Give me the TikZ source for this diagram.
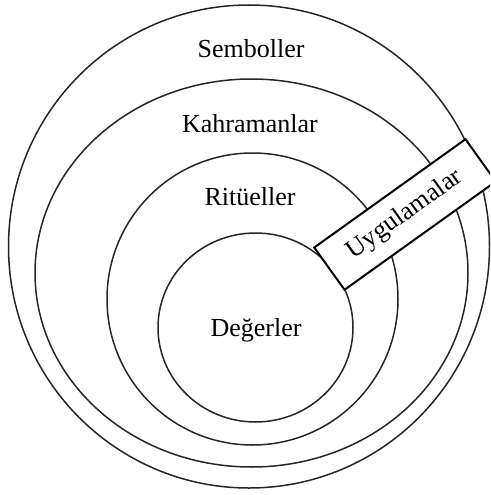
\documentclass[tikz,border=0pt]{standalone}
\usepackage{fontspec}
\setmainfont{Liberation Serif}
\begin{document}
\begin{tikzpicture}[x=1pt,y=-1pt,
  ring/.style={draw=black!85, line width=1.5pt},
  lab/.style={font=\fontsize{26}{30}\selectfont, inner sep=0pt, anchor=base},
  boxlab/.style={draw=black, fill=white, line width=2pt, rotate=35.6,
    minimum width=186pt, minimum height=52pt, inner sep=0pt,
    font=\fontsize{26}{30}\selectfont}]
\useasboundingbox (0,0) rectangle (490,495);
\clip (0,0) rectangle (490,495);
\fill[white] (0,0) rectangle (490,495);
\draw[ring] (249,246.5) ellipse [x radius=240.5, y radius=241.5];
\draw[ring] (251.5,273) ellipse [x radius=216.5, y radius=194];
\draw[ring] (252.5,299) ellipse [x radius=145.5, y radius=146];
\draw[ring] (255.5,327.5) ellipse [x radius=97.5, y radius=94.5];
\node[lab] (sem) at (251,58) {Semboller};
\node[lab] (kah) at (250,132) {Kahramanlar};
\node[lab] (rit) at (250,205) {Ritüeller};
\node[lab] (deg) at (256,336.5) {Değerler};
\node[boxlab] (uyg) at (405,214.5) {Uygulamalar};
\end{tikzpicture}
\end{document}
